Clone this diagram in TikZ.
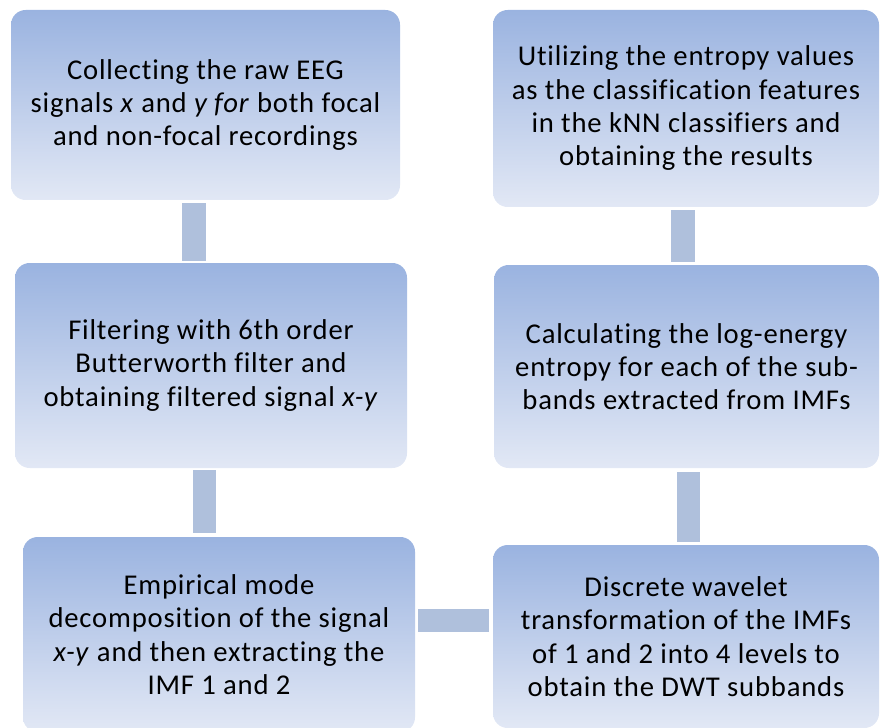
\documentclass[tikz,border=0pt]{standalone}
\usepackage{fontspec}
\setmainfont[LetterSpace=2.8,Ligatures={NoCommon}]{Carlito}
\usetikzlibrary{calc}
\definecolor{boxtop}{HTML}{9AB3E0}
\definecolor{boxbot}{HTML}{E2E8F5}
\definecolor{barcol}{HTML}{AFC0DC}
\begin{document}
\begin{tikzpicture}[x=0.75pt,y=-0.75pt,
        stage/.style={rounded corners=11pt,top color=boxtop,bottom color=boxbot,
            align=center,inner sep=0pt,font=\fontsize{21.5}{25}\selectfont},
        link/.style={draw=barcol,line width=17.6pt}]
\useasboundingbox (0,0) rectangle (880,727);

\node[stage,minimum width=291.75pt,minimum height=142.5pt] (collect) at (205.5,105)
    {Collecting the raw EEG\\ signals \textit{x} and \textit{y for} both focal\\ and non-focal recordings};
\node[stage,minimum width=294pt,minimum height=153.75pt] (filter) at (211,365.5)
    {Filtering with 6th order\\ Butterworth filter and\\ obtaining filtered signal \textit{x-y}};
\node[stage,minimum width=294pt,minimum height=146.25pt] (emd) at (219,634.5)
    {Empirical mode\\ decomposition of the signal\\ \textit{x-y} and then extracting the\\ IMF 1 and 2};
\node[stage,minimum width=289.5pt,minimum height=137.25pt] (dwt) at (686,636.5)
    {Discrete wavelet\\ transformation of the IMFs\\ of 1 and 2 into 4 levels to\\ obtain the DWT subbands};
\node[stage,minimum width=288.75pt,minimum height=152.25pt] (entropy) at (686.5,366.5)
    {Calculating the log-energy\\ entropy for each of the sub-\\ bands extracted from IMFs};
\node[stage,minimum width=289.5pt,minimum height=147.75pt] (knn) at (686,108.5)
    {Utilizing the entropy values\\ as the classification features\\ in the kNN classifiers and\\ obtaining the results};

% connecting bars
\draw[link] ($(collect.south)+(-11.5,3)$) -- ($(filter.north)+(-17,-2)$);
\draw[link] ($(filter.south)+(-6.5,2)$) -- ($(emd.north)+(-14.5,-4)$);
\draw[link] ($(emd.east)+(3,-14)$) -- ($(dwt.west)+(-4,-16)$);
\draw[link] ($(dwt.north)+(2.5,-3)$) -- ($(entropy.south)+(2,4)$);
\draw[link] ($(entropy.north)+(-3.5,-3)$) -- ($(knn.south)+(-3,3)$);
\end{tikzpicture}
\end{document}
